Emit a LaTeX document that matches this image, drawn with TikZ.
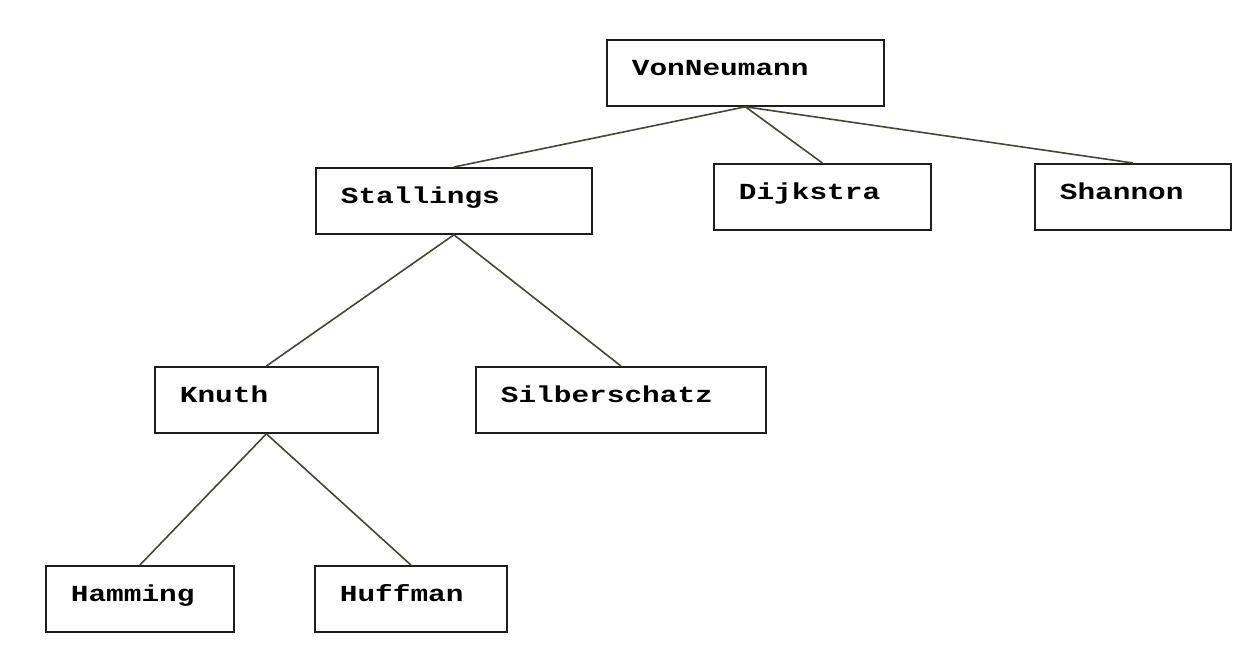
\documentclass[tikz,border=0pt]{standalone}
\usepackage{fontspec}
\usepackage{tikz}

\newfontfamily\treefont[FakeStretch=1.28]{Liberation Mono}
\definecolor{edgegray}{RGB}{70,70,50}
\definecolor{boxgray}{RGB}{30,30,30}

\tikzset{
  person/.style={draw=boxgray, line width=1.8pt, rectangle, anchor=north west,
    inner xsep=25pt, inner ysep=0pt, text height=36pt, text depth=30pt,
    align=left, font=\treefont\bfseries\fontsize{23}{26}\selectfont},
  link/.style={draw=edgegray, line width=1.6pt}
}

\begin{document}
\begin{tikzpicture}[x=1pt,y=-1pt]

\useasboundingbox (0,0) rectangle (1256,653);

% Root
\node[person, text width=227pt] (vonneumann) at (606,39) {VonNeumann};

% Second level
\node[person, text width=226pt] (stallings) at (315,167) {Stallings};
\node[person, text width=167pt] (dijkstra) at (713,163) {Dijkstra};
\node[person, text width=146pt] (shannon) at (1034,163) {Shannon};

% Third level
\node[person, text width=173pt] (knuth) at (154,366) {Knuth};
\node[person, text width=240pt] (silberschatz) at (475,366) {Silberschatz};

% Leaves
\node[person, text width=138pt] (hamming) at (45,565) {Hamming};
\node[person, text width=142pt] (huffman) at (314,565) {Huffman};

% Links
\draw[link] (vonneumann.south) -- (stallings.north);
\draw[link] (vonneumann.south) -- (dijkstra.north);
\draw[link] (vonneumann.south) -- (shannon.north);
\draw[link] (stallings.south) -- (knuth.north);
\draw[link] (stallings.south) -- (silberschatz.north);
\draw[link] (knuth.south) -- (hamming.north);
\draw[link] (knuth.south) -- (huffman.north);

\end{tikzpicture}
\end{document}
